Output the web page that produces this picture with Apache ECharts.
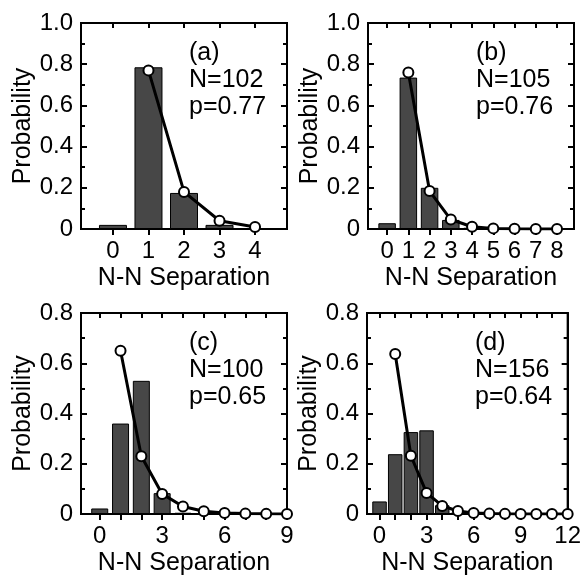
<!DOCTYPE html>
<html>
<head>
<meta charset="utf-8">
<script src="https://cdn.jsdelivr.net/npm/echarts@6/dist/echarts.min.js"></script>
<style>
  html, body { margin: 0; padding: 0; background: #fff; }
  #chart { width: 584px; height: 577px; }
</style>
</head>
<body>
<div id="chart"></div>
<script>
// panel (a)
const barXA = [0, 1, 2, 3];
const barYA = [0.02, 0.785, 0.175, 0.02];
const fitXA = [1, 2, 3, 4];
const fitYA = [0.77, 0.18, 0.04, 0.01];
// panel (b)
const barXB = [0, 1, 2, 3, 4];
const barYB = [0.028, 0.735, 0.2, 0.044, 0.006];
const fitXB = [1, 2, 3, 4, 5, 6, 7, 8];
const fitYB = [0.76, 0.184, 0.046, 0.011, 0.003, 0.001, 0.0003, 0.0001];
// panel (c)
const barXC = [0, 1, 2, 3, 4];
const barYC = [0.022, 0.36, 0.53, 0.083, 0.005];
const fitXC = [1, 2, 3, 4, 5, 6, 7, 8, 9];
const fitYC = [0.65, 0.23, 0.08, 0.03, 0.011, 0.004, 0.0015, 0.0005, 0.0002];
// panel (d)
const barXD = [0, 1, 2, 3, 4, 5];
const barYD = [0.05, 0.238, 0.326, 0.333, 0.035, 0.005];
const fitXD = [1, 2, 3, 4, 5, 6, 7, 8, 9, 10, 11, 12];
const fitYD = [0.637, 0.232, 0.084, 0.032, 0.012, 0.004, 0.0015, 0.0005, 0.0002, 0.0001, 0, 0];

// tick labels
const xTicksA = [0, 1, 2, 3, 4];
const xLabelsA = [0, 1, 2, 3, 4];
const xTicksB = [0, 1, 2, 3, 4, 5, 6, 7, 8];
const xLabelsB = [0, 1, 2, 3, 4, 5, 6, 7, 8];
const xTicksC = [0, 1, 2, 3, 4, 5, 6, 7, 8, 9];
const xLabelsC = [0, 3, 6, 9];
const xTicksD = [0, 1, 2, 3, 4, 5, 6, 7, 8, 9, 10, 11, 12];
const xLabelsD = [0, 3, 6, 9, 12];

const notes = [
  ["(a)", "N=102", "p=0.77"],
  ["(b)", "N=105", "p=0.76"],
  ["(c)", "N=100", "p=0.65"],
  ["(d)", "N=156", "p=0.64"]
];

const FONT = "Liberation Sans";

const panels = [
  { left: 81, top: 23, xmin: -0.9, xmax: 4.9, ymax: 1.0, ticks: xTicksA, labels: xLabelsA, bx: barXA, by: barYA, fx: fitXA, fy: fitYA, bw: 28 },
  { left: 368, top: 23, xmin: -0.9, xmax: 8.8, ymax: 1.0, ticks: xTicksB, labels: xLabelsB, bx: barXB, by: barYB, fx: fitXB, fy: fitYB, bw: 17.5 },
  { left: 81, top: 313, xmin: -0.9, xmax: 9, ymax: 0.8, ticks: xTicksC, labels: xLabelsC, bx: barXC, by: barYC, fx: fitXC, fy: fitYC, bw: 17 },
  { left: 367, top: 313, xmin: -0.8, xmax: 12, ymax: 0.8, ticks: xTicksD, labels: xLabelsD, bx: barXD, by: barYD, fx: fitXD, fy: fitYD, bw: 14.5 }
];

const ls = () => ({ color: "#000", width: 2, type: "solid" });
const grid = [], xAxis = [], yAxis = [], series = [], graphic = [];

panels.forEach((p, i) => {
  grid.push({
    left: p.left, top: p.top, width: 206, height: 206,
    show: true, borderColor: "#000", borderWidth: 2, backgroundColor: "transparent"
  });
  // bottom axis
  xAxis.push({
    type: "value", gridIndex: i, position: "bottom", min: p.xmin, max: p.xmax,
    name: "N-N Separation", nameLocation: "middle", nameGap: 37,
    nameTextStyle: { fontFamily: FONT, fontSize: 25, color: "#000" },
    axisLine: { show: true, onZero: false, lineStyle: ls() },
    axisTick: { show: true, inside: false, length: 6, lineStyle: ls(), customValues: p.ticks },
    axisLabel: { show: true, margin: 10, fontFamily: FONT, fontSize: 24, color: "#000", customValues: p.labels },
    splitLine: { show: false }
  });
  // top mirror
  xAxis.push({
    type: "value", gridIndex: i, position: "top", min: p.xmin, max: p.xmax,
    axisLine: { show: true, onZero: false, lineStyle: ls() },
    axisTick: { show: true, inside: true, length: 5, lineStyle: ls(), customValues: p.ticks },
    axisLabel: { show: false, customValues: p.ticks },
    splitLine: { show: false }
  });
  // left axis
  yAxis.push({
    type: "value", gridIndex: i, position: "left", min: 0, max: p.ymax, interval: 0.2,
    name: "Probability", nameLocation: "middle", nameGap: 45,
    nameTextStyle: { fontFamily: FONT, fontSize: 25, color: "#000" },
    axisLine: { show: true, onZero: false, lineStyle: ls() },
    axisTick: { show: true, inside: true, length: 6, lineStyle: ls() },
    minorTick: { show: true, splitNumber: 2, length: 4, lineStyle: ls() },
    axisLabel: {
      margin: 8, fontFamily: FONT, fontSize: 24, color: "#000",
      formatter: v => (v === 0 ? "0" : v.toFixed(1))
    },
    splitLine: { show: false }
  });
  // right mirror
  yAxis.push({
    type: "value", gridIndex: i, position: "right", min: 0, max: p.ymax, interval: 0.2,
    axisLine: { show: true, onZero: false, lineStyle: ls() },
    axisTick: { show: true, inside: true, length: 6, lineStyle: ls() },
    minorTick: { show: true, splitNumber: 2, length: 4, lineStyle: ls() },
    axisLabel: { show: false },
    splitLine: { show: false }
  });

  series.push({
    type: "bar", xAxisIndex: 2 * i, yAxisIndex: 2 * i,
    data: p.bx.map((x, k) => [x, p.by[k]]),
    barWidth: p.bw,
    itemStyle: { color: "#474747", borderColor: "#000", borderWidth: 1 },
    silent: true
  });
  series.push({
    type: "line", xAxisIndex: 2 * i, yAxisIndex: 2 * i,
    data: p.fx.map((x, k) => [x, p.fy[k]]),
    symbol: "circle", symbolSize: 10,
    lineStyle: { color: "#000", width: 3 },
    itemStyle: { color: "#fff", borderColor: "#000", borderWidth: 2 },
    z: 5, silent: true
  });

  notes[i].forEach((t, k) => {
    graphic.push({
      type: "text",
      x: p.left + 108,
      y: p.top + 30 + k * 27,
      style: { text: t, fontFamily: FONT, fontSize: 25, fill: "#000", verticalAlign: "middle" }
    });
  });
});

const chart = echarts.init(document.getElementById("chart"));
chart.setOption({
  animation: false,
  backgroundColor: "#fff",
  grid, xAxis, yAxis, series, graphic
});
</script>
</body>
</html>
